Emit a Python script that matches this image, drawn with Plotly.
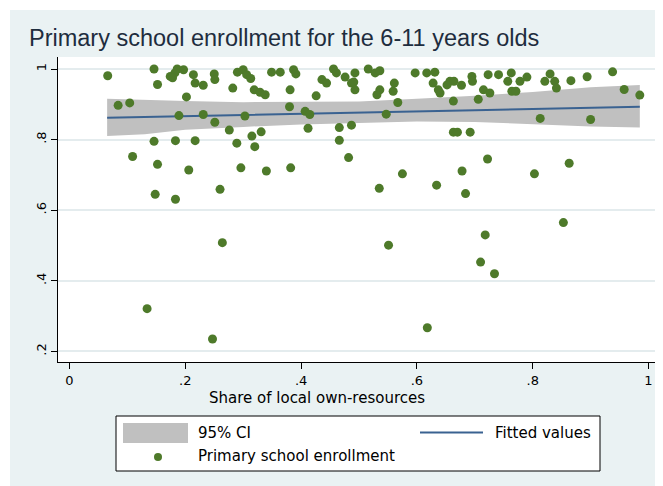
import plotly.graph_objects as go

# ---------------- data ----------------
share = [0.066, 0.146, 0.152, 0.084, 0.104, 0.174, 0.182, 0.186, 0.197, 0.178,
         0.214, 0.217, 0.231, 0.202, 0.189, 0.231, 0.146, 0.183, 0.217, 0.251,
         0.276, 0.315, 0.331, 0.289, 0.320, 0.109, 0.152, 0.206, 0.296, 0.340,
         0.382, 0.148, 0.183, 0.260, 0.412, 0.466, 0.466, 0.487, 0.482, 0.380,
         0.407, 0.415, 0.303, 0.381, 0.426, 0.264, 0.134, 0.247, 0.551, 0.718,
         0.710, 0.734, 0.853, 0.618, 0.575, 0.535, 0.634, 0.678, 0.684, 0.722,
         0.803, 0.863, 0.547, 0.663, 0.670, 0.692, 0.813, 0.900, 0.567, 0.663,
         0.706, 0.958, 0.985, 0.938, 0.894, 0.250, 0.251, 0.282, 0.290, 0.300,
         0.306, 0.313, 0.319, 0.329, 0.338, 0.349, 0.364, 0.387, 0.391, 0.436,
         0.444, 0.456, 0.461, 0.476, 0.487, 0.493, 0.491, 0.493, 0.516, 0.528,
         0.536, 0.536, 0.531, 0.561, 0.559, 0.597, 0.617, 0.631, 0.628, 0.637,
         0.640, 0.657, 0.664, 0.677, 0.695, 0.696, 0.715, 0.726, 0.723, 0.741,
         0.763, 0.757, 0.764, 0.771, 0.778, 0.790, 0.821, 0.830, 0.838, 0.841,
         0.866, 0.652]
enrollment = [0.981, 1.000, 0.956, 0.897, 0.904, 0.979, 0.989, 1.000, 0.998, 0.975,
              0.984, 0.960, 0.954, 0.921, 0.868, 0.871, 0.795, 0.797, 0.797, 0.849,
              0.827, 0.810, 0.822, 0.790, 0.780, 0.752, 0.730, 0.714, 0.720, 0.711,
              0.720, 0.645, 0.631, 0.659, 0.832, 0.834, 0.798, 0.841, 0.749, 0.893,
              0.880, 0.871, 0.867, 0.941, 0.924, 0.508, 0.321, 0.235, 0.501, 0.530,
              0.453, 0.420, 0.565, 0.267, 0.703, 0.662, 0.671, 0.711, 0.647, 0.745,
              0.703, 0.733, 0.872, 0.821, 0.821, 0.821, 0.860, 0.857, 0.905, 0.909,
              0.914, 0.942, 0.926, 0.992, 0.978, 0.986, 0.970, 0.946, 0.991, 0.998,
              0.984, 0.973, 0.941, 0.934, 0.927, 0.991, 0.991, 0.998, 0.986, 0.970,
              0.960, 1.000, 0.989, 0.977, 0.960, 0.989, 0.963, 0.941, 1.000, 0.989,
              0.995, 0.941, 0.927, 0.960, 0.937, 0.989, 0.989, 0.991, 0.960, 0.941,
              0.932, 0.965, 0.965, 0.954, 0.979, 0.965, 0.941, 0.932, 0.984, 0.984,
              0.989, 0.965, 0.937, 0.937, 0.965, 0.977, 0.965, 0.986, 0.965, 0.946,
              0.967, 0.955]

fit_x = [0.065, 0.13, 0.2, 0.3, 0.4, 0.5, 0.6, 0.7, 0.8, 0.9, 0.985]
fit_y = [0.862, 0.864, 0.866, 0.869, 0.873, 0.876, 0.880, 0.883, 0.887, 0.890, 0.893]
ci_hi = [0.916, 0.912, 0.909, 0.906, 0.906, 0.908, 0.916, 0.924, 0.935, 0.948, 0.955]
ci_lo = [0.810, 0.815, 0.828, 0.836, 0.843, 0.848, 0.851, 0.850, 0.843, 0.837, 0.834]

x_ticks = [0, 0.2, 0.4, 0.6, 0.8, 1]
x_ticktext = ["0", ".2", ".4", ".6", ".8", "1"]
y_ticks = [0.2, 0.4, 0.6, 0.8, 1]
y_ticktext = [".2", ".4", ".6", ".8", "1"]

title_text = "Primary school enrollment for the 6-11 years olds"
xtitle_text = "Share of local own-resources"
legend_labels = ["95% CI", "Fitted values", "Primary school enrollment"]

# ---------------- style ----------------
OFF = 8                              # page body margin
W, H = 663 - OFF, 486 - OFF
L, R, T, B = 58 - OFF, 658 - OFF, 57 - OFF, 362 - OFF   # plot area (figure px)
BG = "#EAF2F3"
GREEN = "#4E7A2A"
NAVY = "#3A6291"
GRAY = "#C0C0C0"
FONT = "DejaVu Sans"
TXT = 15

def px(xp):
    """reference-picture x pixel -> paper coordinate"""
    return (xp - OFF - L) / (R - L)

def py(yp):
    """reference-picture y pixel -> paper coordinate"""
    return (B - (yp - OFF)) / (B - T)

fig = go.Figure()

fig.add_trace(go.Scatter(
    x=fit_x + fit_x[::-1], y=ci_hi + ci_lo[::-1],
    fill="toself", fillcolor=GRAY, line=dict(width=0),
    mode="lines", hoverinfo="skip", showlegend=False))
fig.add_trace(go.Scatter(
    x=fit_x, y=fit_y, mode="lines",
    line=dict(color=NAVY, width=2), showlegend=False))
fig.add_trace(go.Scatter(
    x=share, y=enrollment, mode="markers",
    marker=dict(color=GREEN, size=9, line=dict(width=0)),
    showlegend=False))

shapes = [
    # thin white outer margins (top / left)
    dict(type="rect", xref="paper", yref="paper", x0=px(0), x1=px(700), y0=py(0), y1=py(10),
         fillcolor="white", line=dict(width=0), layer="below"),
    dict(type="rect", xref="paper", yref="paper", x0=px(0), x1=px(10), y0=py(0), y1=py(500),
         fillcolor="white", line=dict(width=0), layer="below"),
    # legend box
    dict(type="rect", xref="paper", yref="paper", x0=px(116), x1=px(600), y0=py(416), y1=py(471),
         fillcolor="white", line=dict(color="black", width=1)),
    dict(type="rect", xref="paper", yref="paper", x0=px(123), x1=px(188), y0=py(423), y1=py(443),
         fillcolor=GRAY, line=dict(width=0)),
    dict(type="line", xref="paper", yref="paper", x0=px(420), x1=px(483), y0=py(432.5), y1=py(432.5),
         line=dict(color=NAVY, width=2)),
    dict(type="circle", xref="paper", yref="paper", xsizemode="pixel", ysizemode="pixel",
         xanchor=px(158), yanchor=py(457), x0=-4, x1=4, y0=-4, y1=4,
         fillcolor=GREEN, line=dict(width=0)),
]

annotations = [
    dict(text=title_text, xref="paper", yref="paper", x=px(27), y=py(38),
         xanchor="left", yanchor="middle", showarrow=False,
         font=dict(family="Liberation Sans", size=23.5, color="#1E2D3E")),
    dict(text=xtitle_text, xref="paper", yref="paper", x=px(317), y=py(398),
         xanchor="center", yanchor="middle", showarrow=False,
         font=dict(family=FONT, size=TXT, color="black")),
    dict(text=legend_labels[0], xref="paper", yref="paper", x=px(196), y=py(433),
         xanchor="left", yanchor="middle", showarrow=False,
         font=dict(family=FONT, size=TXT, color="black")),
    dict(text=legend_labels[1], xref="paper", yref="paper", x=px(593), y=py(433),
         xanchor="right", yanchor="middle", showarrow=False,
         font=dict(family=FONT, size=TXT, color="black")),
    dict(text=legend_labels[2], xref="paper", yref="paper", x=px(196), y=py(456),
         xanchor="left", yanchor="middle", showarrow=False,
         font=dict(family=FONT, size=TXT, color="black")),
]

x0_px, y1_px = 69.5 - OFF, 69 - OFF     # pixel of x=0 and y=1 (figure px)
fig.update_layout(
    width=W, height=H,
    margin=dict(l=L, r=W - R, t=T, b=H - B, pad=0),
    paper_bgcolor=BG, plot_bgcolor="white",
    showlegend=False,
    shapes=shapes, annotations=annotations,
    xaxis=dict(range=[(L - x0_px) / 579, (R - x0_px) / 579],
               tickvals=x_ticks, ticktext=x_ticktext,
               showline=True, linecolor="black", linewidth=1,
               ticks="outside", ticklen=6, tickcolor="black", tickwidth=1,
               showgrid=False, zeroline=False,
               tickfont=dict(family=FONT, size=13, color="black")),
    yaxis=dict(range=[1 - (B - y1_px) / 353, 1 + (y1_px - T) / 353],
               tickvals=y_ticks, ticktext=y_ticktext, tickangle=-90,
               showline=True, linecolor="black", linewidth=1,
               ticks="outside", ticklen=6, tickcolor="black", tickwidth=1,
               showgrid=True, gridcolor="#E4ECEE", gridwidth=1.5,
               zeroline=False,
               tickfont=dict(family=FONT, size=13, color="black")),
)

fig.write_html("out.html")
